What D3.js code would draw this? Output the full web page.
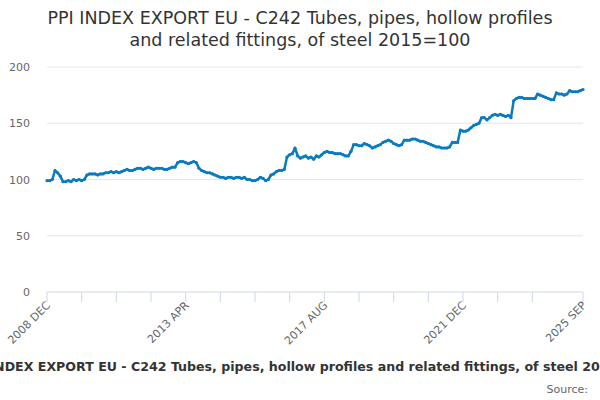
<!DOCTYPE html>
<html>
<head>
<meta charset="utf-8">
<script src="https://cdn.jsdelivr.net/npm/d3@7"></script>
<style>
  body { margin: 0; background: #fff; }
  text { font-family: "DejaVu Sans", sans-serif; }
</style>
</head>
<body>
<svg id="chart" width="600" height="400"></svg>
<script>
// monthly values, 2008 DEC .. 2025 SEP
const values = [
  99,99,100,108,106,103,98,98,99,98,100,99,100,99,100,
  104,105,105,105,104,105,105,106,106,107,106,107,106,
  107,108,109,108,108,109,110,110,109,110,111,110,109,110,110,
  110,109,109,110,111,111,
  115,116,116,115,114,115,116,115,
  110,108,107,106,106,105,104,103,
  102,102,101,102,102,101,102,102,101,102,
  100,100,99,99,100,102,101,99,
  100,104,105,107,108,108,109,
  120,122,123,128,121,119,120,121,119,120,118,121,120,
  122,124,125,124,124,123,123,123,122,121,121,
  125,131,131,130,130,132,131,130,128,129,130,131,133,134,135,
  134,132,131,130,131,135,135,135,136,136,135,134,134,133,132,
  131,130,129,129,128,128,128,129,133,133,133,
  144,143,143,144,146,148,149,150,155,155,153,155,157,158,157,
  158,157,156,157,155,
  170,172,173,173,172,172,172,172,172,176,175,174,173,172,171,171,
  177,176,176,175,176,179,178,178,178,179,180
];
const yTicks = [0, 50, 100, 150, 200];
const monthNames = ["JAN","FEB","MAR","APR","MAY","JUN","JUL","AUG","SEP","OCT","NOV","DEC"];
const startYear = 2008, startMonth = 11;
const tickIdx = d3.range(0, 195, 13).concat([values.length - 1]);
const labelIdx = [0, 52, 104, 156, values.length - 1];
const title = ["PPI INDEX EXPORT EU - C242 Tubes, pipes, hollow profiles", "and related fittings, of steel 2015=100"];
const caption = "PPI INDEX EXPORT EU - C242 Tubes, pipes, hollow profiles and related fittings, of steel 2015=100";

const label = i => {
  const m = startMonth + i;
  return (startYear + Math.floor(m / 12)) + " " + monthNames[m % 12];
};

const svg = d3.select("#chart");
const margin = { left: 47, right: 17, top: 67, bottom: 108 };
const W = 600, H = 400;

const x = d3.scaleLinear().domain([0, values.length - 1]).range([margin.left, W - margin.right]);
const y = d3.scaleLinear().domain([0, 200]).range([H - margin.bottom, margin.top]);

svg.selectAll(".title").data(title).join("text")
  .attr("x", W / 2).attr("y", (d, i) => 24 + i * 22)
  .attr("text-anchor", "middle").attr("font-size", 17.5).attr("fill", "#333")
  .text(d => d);

// grid
svg.append("g").selectAll("line").data(yTicks.filter(d => d > 0)).join("line")
  .attr("x1", margin.left).attr("x2", W - margin.right)
  .attr("y1", d => y(d)).attr("y2", d => y(d))
  .attr("stroke", "#e6e6e6");

svg.append("g").selectAll("text").data(yTicks).join("text")
  .attr("x", 30).attr("y", d => y(d) + 4)
  .attr("text-anchor", "end").attr("font-size", 11).attr("fill", "#666")
  .text(d => d);

// x axis
const xAxis = svg.append("g").attr("transform", `translate(0,${y(0)})`);
xAxis.append("line").attr("x1", margin.left).attr("x2", W - margin.right).attr("stroke", "#ccd6eb");
xAxis.selectAll(".tk").data(tickIdx).join("line")
  .attr("x1", d => x(d)).attr("x2", d => x(d)).attr("y1", 0).attr("y2", 10)
  .attr("stroke", "#ccd6eb");
xAxis.selectAll(".lb").data(labelIdx).join("text")
  .attr("transform", d => `translate(${x(d) + 4},${14}) rotate(-45)`)
  .attr("text-anchor", "end").attr("font-size", 11).attr("fill", "#666")
  .text(d => label(d));

// series
const line = d3.line().x((d, i) => x(i)).y(d => y(d));
svg.append("path").datum(values).attr("d", line)
  .attr("fill", "none").attr("stroke", "#0a7bc1").attr("stroke-width", 2.5)
  .attr("stroke-linejoin", "round");
svg.append("g").selectAll("circle").data(values).join("circle")
  .attr("cx", (d, i) => x(i)).attr("cy", d => y(d)).attr("r", 1.6).attr("fill", "#0a7bc1");

svg.append("text").attr("x", W / 2 + 8).attr("y", 371)
  .attr("text-anchor", "middle").attr("font-size", 12.6).attr("font-weight", "bold").attr("fill", "#333")
  .text(caption);
svg.append("text").attr("x", 588).attr("y", 393)
  .attr("text-anchor", "end").attr("font-size", 11).attr("fill", "#666")
  .text("Source:");
</script>
</body>
</html>
